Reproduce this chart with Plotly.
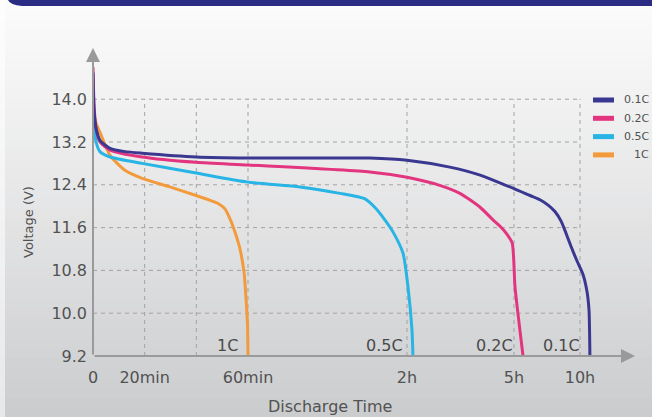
import numpy as np
import plotly.graph_objects as go

# ---------------- data ----------------
RATES = ["0.1C", "0.2C", "0.5C", "1C"]
COLORS = ["#3a3790", "#e3357f", "#28b4e4", "#f39a3c"]

# discharge time in minutes, voltage in V
t_01C = [0, 0.4, 1.2, 2.7, 6.6, 12.4, 19, 39.9, 60, 106, 120, 192, 243, 277, 300, 373, 418, 455, 486, 514, 536, 559, 586, 614, 632, 641, 645]
v_01C = [14.5, 13.8, 13.45, 13.23, 13.08, 13.02, 12.99, 12.92, 12.9, 12.9, 12.86, 12.73, 12.58, 12.43, 12.33, 12.2, 12.12, 12.02, 11.9, 11.72, 11.5, 11.25, 10.98, 10.72, 10.4, 10.05, 9.2]

t_02C = [0, 0.4, 1.2, 2.7, 6.6, 19, 39.9, 60, 106, 120, 175, 209, 243, 265, 277, 288, 297, 304.5, 327, 341]
v_02C = [14.6, 13.9, 13.45, 13.2, 13.05, 12.92, 12.82, 12.77, 12.64, 12.54, 12.39, 12.24, 11.98, 11.74, 11.62, 11.48, 11.31, 10.49, 9.68, 9.2]

t_05C = [0, 0.4, 1.2, 2.7, 6.6, 19, 39.9, 60, 79.6, 94.7, 104, 108, 111.7, 114.7, 118.5, 121.7, 128.4, 130]
v_05C = [14.0, 13.55, 13.2, 13.02, 12.92, 12.8, 12.62, 12.45, 12.36, 12.24, 12.14, 11.97, 11.74, 11.52, 11.12, 10.49, 9.68, 9.2]

t_1C = [0, 0.4, 1.2, 2.7, 6.6, 12.4, 19, 29.8, 39.9, 45.3, 48.4, 51.1, 53.4, 55.4, 56.9, 58.5, 59.2, 59.8, 60]
v_1C = [13.9, 13.7, 13.55, 13.38, 12.95, 12.67, 12.52, 12.36, 12.2, 12.11, 12.05, 11.95, 11.72, 11.45, 11.2, 10.75, 10.3, 9.8, 9.2]

SERIES_T = [t_01C, t_02C, t_05C, t_1C]
SERIES_V = [v_01C, v_02C, v_05C, v_1C]

TIME_TICKS_MIN = [0, 20, 60, 120, 300, 600]
TIME_TICK_TEXT = ["0", "20min", "60min", "2h", "5h", "10h"]
GRID_TIMES_MIN = [20, 40, 60, 120, 300, 600]
VOLT_TICKS = [9.2, 10.0, 10.8, 11.6, 12.4, 13.2, 14.0]

# ---------------- non-linear time scale of the chart ----------------
KNOT_T = [0, 60, 120, 300, 600]
KNOT_P = [0, 155, 314, 421, 487]


def tpos(t):
    t = np.asarray(t, dtype=float)
    p = np.interp(t, KNOT_T, KNOT_P)
    slope = (KNOT_P[-1] - KNOT_P[-2]) / (KNOT_T[-1] - KNOT_T[-2])
    return np.where(t > KNOT_T[-1], KNOT_P[-1] + (t - KNOT_T[-1]) * slope, p)


W, H = 652, 417
L, R, T, B = 93, 17, 48, 61
PW, PH = W - L - R, H - T - B
X_MAX = PW
Y_MIN = 9.2
Y_MAX = 9.2 + PH / 53.5


def px2paper_x(px):
    return (px - L) / PW


def px2paper_y(py):
    return (H - B - py) / PH


FONT = "DejaVu Sans"
GRAY_TXT = "#525252"

fig = go.Figure()

# curves (draw 1C first, 0.1C last)
for name, col, ts, vs in reversed(list(zip(RATES, COLORS, SERIES_T, SERIES_V))):
    fig.add_trace(go.Scatter(
        x=tpos(ts), y=vs, mode="lines", name=name, showlegend=False,
        line=dict(color=col, width=3, shape="spline", smoothing=0.6),
        hoverinfo="skip",
    ))

shapes = []
# background gradient bands
N = 42
top_c = np.array([251, 251, 251])
bot_c = np.array([203, 204, 206])
for i in range(N):
    f = i / (N - 1)
    c = top_c + (bot_c - top_c) * (f ** 1.1)
    y0 = i * H / N
    y1 = (i + 1) * H / N + 0.5
    shapes.append(dict(type="rect", xref="paper", yref="paper", layer="below",
                       x0=px2paper_x(0), x1=px2paper_x(W),
                       y0=px2paper_y(y1), y1=px2paper_y(y0),
                       fillcolor="rgb(%d,%d,%d)" % tuple(c.round()), line=dict(width=0)))
# light left strip
shapes.append(dict(type="rect", xref="paper", yref="paper", layer="below",
                   x0=px2paper_x(0), x1=px2paper_x(5), y0=px2paper_y(H), y1=px2paper_y(0),
                   fillcolor="rgba(255,255,255,0.55)", line=dict(width=0)))
# navy header band
shapes.append(dict(type="path", xref="paper", yref="paper", layer="below",
                   path="M %f,%f L %f,%f L %f,%f L %f,%f Q %f,%f %f,%f Z" % (
                       px2paper_x(8), px2paper_y(0), px2paper_x(W), px2paper_y(0),
                       px2paper_x(W), px2paper_y(6), px2paper_x(22), px2paper_y(6),
                       px2paper_x(10), px2paper_y(5), px2paper_x(8), px2paper_y(0)),
                   fillcolor="#2b2d84", line=dict(width=0)))

# dashed grid (limited to 0..10h and 9.2..14.0 V)
GRID_COL = "#a3a3a3"
for v in VOLT_TICKS[1:]:
    shapes.append(dict(type="line", xref="x", yref="y", layer="below",
                       x0=0, x1=float(tpos(600)), y0=v, y1=v,
                       line=dict(color=GRID_COL, width=1, dash="4px,4px")))
for tm in GRID_TIMES_MIN:
    shapes.append(dict(type="line", xref="x", yref="y", layer="below",
                       x0=float(tpos(tm)), x1=float(tpos(tm)), y0=Y_MIN, y1=VOLT_TICKS[-1],
                       line=dict(color=GRID_COL, width=1, dash="4px,4px")))

annotations = []
AX_COL = "#9a9a9a"
# axis arrows
annotations.append(dict(x=0, y=Y_MAX, ax=0, ay=Y_MIN, xref="x", yref="y", axref="x", ayref="y",
                        text="", showarrow=True, arrowhead=2, arrowsize=1.4, arrowwidth=2,
                        arrowcolor=AX_COL, standoff=0, startstandoff=0))
annotations.append(dict(x=X_MAX, y=Y_MIN, ax=0, ay=Y_MIN, xref="x", yref="y", axref="x", ayref="y",
                        text="", showarrow=True, arrowhead=2, arrowsize=1.4, arrowwidth=2,
                        arrowcolor=AX_COL, standoff=0, startstandoff=0))
# rate labels at the end of each curve
for name, ts in zip(RATES, SERIES_T):
    annotations.append(dict(x=float(tpos(ts[-1])), y=Y_MIN, xref="x", yref="y",
                            text=name, showarrow=False, xanchor="right", yanchor="bottom",
                            xshift=-8, yshift=-1,
                            font=dict(family=FONT, size=16, color="#4a4a4a")))
# axis titles
annotations.append(dict(x=px2paper_x(28), y=px2paper_y(222), xref="paper", yref="paper",
                        xanchor="center", yanchor="middle",
                        text="Voltage (V)", textangle=-90, showarrow=False,
                        font=dict(family=FONT, size=13, color=GRAY_TXT)))
annotations.append(dict(x=px2paper_x(330), y=px2paper_y(406), xref="paper", yref="paper",
                        xanchor="center", yanchor="middle",
                        text="Discharge Time", showarrow=False,
                        font=dict(family=FONT, size=16, color=GRAY_TXT)))

# legend at the right edge
LEG_Y0, LEG_DY = 100, 18.3
for i, (name, col) in enumerate(zip(RATES, COLORS)):
    yy = px2paper_y(LEG_Y0 + i * LEG_DY)
    shapes.append(dict(type="line", xref="paper", yref="paper", layer="above",
                       x0=px2paper_x(593), x1=px2paper_x(614), y0=yy, y1=yy,
                       line=dict(color=col, width=5)))
    annotations.append(dict(x=px2paper_x(650), y=yy, xref="paper", yref="paper",
                            xanchor="right", yanchor="middle", text=name, showarrow=False,
                            borderpad=0,
                            font=dict(family=FONT, size=11, color=GRAY_TXT)))

fig.update_layout(
    width=W, height=H, autosize=False,
    margin=dict(l=L, r=R, t=T, b=B, pad=0),
    paper_bgcolor="#e8e8e8", plot_bgcolor="rgba(0,0,0,0)",
    shapes=shapes, annotations=annotations,
    showlegend=False,
    xaxis=dict(range=[0, X_MAX], showgrid=False, zeroline=False, showline=False,
               tickmode="array", tickvals=tpos(TIME_TICKS_MIN).tolist(), ticktext=TIME_TICK_TEXT,
               ticks="", ticklabelstandoff=10,
               tickfont=dict(family=FONT, size=16, color=GRAY_TXT), fixedrange=True),
    yaxis=dict(range=[Y_MIN, Y_MAX], showgrid=False, zeroline=False, showline=False,
               tickmode="array", tickvals=VOLT_TICKS, ticktext=["%.1f" % v for v in VOLT_TICKS],
               ticks="", ticklabelstandoff=5,
               tickfont=dict(family=FONT, size=16, color=GRAY_TXT), fixedrange=True),
)

fig.write_html(
    "out.html",
    config={"staticPlot": True},
    post_script="document.body.style.margin='0';document.body.style.overflow='hidden';",
)
